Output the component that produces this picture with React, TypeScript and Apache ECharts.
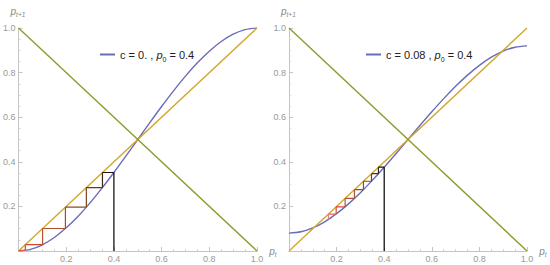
import React, { useEffect, useRef } from "react";
import * as echarts from "echarts";

// sample abscissae for the map curves
const xs = [0, 0.05, 0.1, 0.15, 0.2, 0.25, 0.3, 0.35, 0.4, 0.45, 0.5, 0.55, 0.6, 0.65, 0.7, 0.75, 0.8, 0.85, 0.9, 0.95, 1];
// map curve, c = 0
const curveC0 = [0, 0.00725, 0.028, 0.06075, 0.104, 0.15625, 0.216, 0.28175, 0.352, 0.42525, 0.5, 0.57475, 0.648, 0.71825, 0.784, 0.84375, 0.896, 0.93925, 0.972, 0.99275, 1];
// map curve, c = 0.08
const curveC8 = [0.08, 0.0861, 0.1035, 0.131, 0.1674, 0.2113, 0.2614, 0.3167, 0.3757, 0.4372, 0.5, 0.5628, 0.6243, 0.6833, 0.7386, 0.7887, 0.8326, 0.869, 0.8965, 0.9139, 0.92];
// iterates p0, p1, ... of the cobweb
const iterC0 = [0.4, 0.352, 0.2845, 0.1967, 0.1009, 0.0285, 0.0024, 0.00002];
const iterC8 = [0.4, 0.3757, 0.3466, 0.3128, 0.2751, 0.2358, 0.1981, 0.1658, 0.1416];
// reference lines
const diagonalPts = [[0, 0], [1, 1]];
const antiDiagonalPts = [[0, 1], [1, 0]];
// axis ticks
const tickValues = [0, 0.2, 0.4, 0.6, 0.8, 1.0];
const legendLabels = ["c = 0. , ", "c = 0.08 , "];
const p0Label = " = 0.4";

const BLUE = "#6a6cb6";
const DIAG = "#d2a72c";
const ANTI = "#8d9b2f";

const stops: [number, number[]][] = [
  [0, [0, 0, 0]],
  [0.3, [110, 70, 35]],
  [0.6, [175, 85, 45]],
  [0.85, [225, 65, 50]],
  [1, [240, 120, 130]],
];
function gradColor(t: number) {
  for (let i = 1; i < stops.length; i++) {
    if (t <= stops[i][0]) {
      const [t0, c0] = stops[i - 1];
      const [t1, c1] = stops[i];
      const f = (t - t0) / (t1 - t0 || 1);
      const c = c0.map((v, k) => Math.round(v + (c1[k] - v) * f));
      return `rgb(${c[0]},${c[1]},${c[2]})`;
    }
  }
  return "rgb(240,120,130)";
}

function cobweb(iter: number[]) {
  const segs: number[][][] = [];
  segs.push([[iter[0], 0], [iter[0], iter[1]]]);
  for (let k = 1; k < iter.length - 1; k++) {
    segs.push([[iter[k - 1], iter[k]], [iter[k], iter[k]]]);
    segs.push([[iter[k], iter[k]], [iter[k], iter[k + 1]]]);
  }
  return segs;
}

const richBase = {
  t: { fontSize: 11, color: "#222", fontFamily: "Liberation Sans", lineHeight: 16 },
  i: { fontSize: 11, color: "#222", fontStyle: "italic", fontFamily: "Liberation Sans", lineHeight: 16 },
  s: { fontSize: 7, color: "#222", fontFamily: "Liberation Sans", lineHeight: 9, verticalAlign: "bottom" },
};
const richAxis = {
  i: { fontSize: 10, color: "#888", fontStyle: "italic", fontFamily: "Liberation Sans", lineHeight: 14 },
  s: { fontSize: 6.5, color: "#888", fontStyle: "italic", fontFamily: "Liberation Sans", lineHeight: 8, verticalAlign: "bottom" },
};

export default function App() {
  const ref = useRef<HTMLDivElement>(null);
  useEffect(() => {
    if (!ref.current) return;
    const chart = echarts.init(ref.current, undefined, { renderer: "svg" });
    const grids = [
      { left: 18, top: 28, width: 239, height: 223 },
      { left: 289, top: 28, width: 238, height: 223 },
    ];
    const axisCommon = {
      type: "value",
      min: 0,
      max: 1,
      interval: 0.2,
      axisLine: { show: true, lineStyle: { color: "#c4c4c4", width: 1 } },
      axisTick: { show: true, inside: true, length: 4, lineStyle: { color: "#c4c4c4" } },
      minorTick: { show: true, splitNumber: 4, length: 2, lineStyle: { color: "#d4d4d4" } },
      splitLine: { show: false },
      axisLabel: {
        color: "#999",
        fontSize: 9,
        fontFamily: "Liberation Sans",
        formatter: (v: number) => (v === tickValues[0] ? "" : v.toFixed(1)),
      },
    };
    const xAxes = [0, 1].map((i) => ({
      ...axisCommon,
      gridIndex: i,
      name: "{i|p}{s|t}",
      nameLocation: "end",
      nameGap: 6,
      nameTextStyle: { rich: richAxis, verticalAlign: "middle" },
      axisLabel: { ...axisCommon.axisLabel, margin: 3 },
    }));
    const yAxes = [0, 1].map((i) => ({
      ...axisCommon,
      gridIndex: i,
      name: "{i|p}{s|t+1}",
      nameLocation: "end",
      nameGap: 10,
      nameTextStyle: { rich: richAxis, align: "left", padding: [0, 0, 0, -8] },
      axisLabel: { ...axisCommon.axisLabel, margin: 3 },
    }));

    const series: any[] = [];
    const curves = [curveC0, curveC8];
    const iters = [iterC0, iterC8];
    const names = ["c0", "c8"];
    for (let g = 0; g < 2; g++) {
      series.push({
        name: names[g],
        type: "line",
        xAxisIndex: g,
        yAxisIndex: g,
        data: xs.map((x, k) => [x, curves[g][k]]),
        smooth: 0.3,
        symbol: "none",
        lineStyle: { color: BLUE, width: 1.4 },
        itemStyle: { color: BLUE },
        z: 2,
      });
      series.push({
        type: "line",
        xAxisIndex: g,
        yAxisIndex: g,
        data: diagonalPts,
        symbol: "none",
        lineStyle: { color: DIAG, width: 1.4 },
        z: 3,
      });
      series.push({
        type: "line",
        xAxisIndex: g,
        yAxisIndex: g,
        data: antiDiagonalPts,
        symbol: "none",
        lineStyle: { color: ANTI, width: 1.4 },
        z: 3,
      });
      const segs = cobweb(iters[g]);
      segs.forEach((seg, idx) => {
        const t = segs.length > 1 ? idx / (segs.length - 1) : 0;
        series.push({
          type: "line",
          xAxisIndex: g,
          yAxisIndex: g,
          data: seg,
          symbol: "none",
          lineStyle: { color: gradColor(t), width: 1.2 },
          z: 4,
        });
      });
    }

    const legendFor = (g: number, left: number) => ({
      show: true,
      data: [names[g]],
      left,
      top: 44,
      icon: "rect",
      itemWidth: 15,
      itemHeight: 2,
      itemGap: 5,
      textStyle: { rich: richBase },
      formatter: () => `{t|${legendLabels[g]}}{i|p}{s|0}{t|${p0Label}}`,
    });

    chart.setOption({
      animation: false,
      backgroundColor: "#ffffff",
      grid: grids,
      xAxis: xAxes,
      yAxis: yAxes,
      legend: [legendFor(0, 95), legendFor(1, 361)],
      series,
    });
    return () => chart.dispose();
  }, []);
  return (
    <div
      ref={ref}
      style={{ position: "fixed", left: 0, top: 0, width: 550, height: 265, background: "#fff" }}
    />
  );
}
